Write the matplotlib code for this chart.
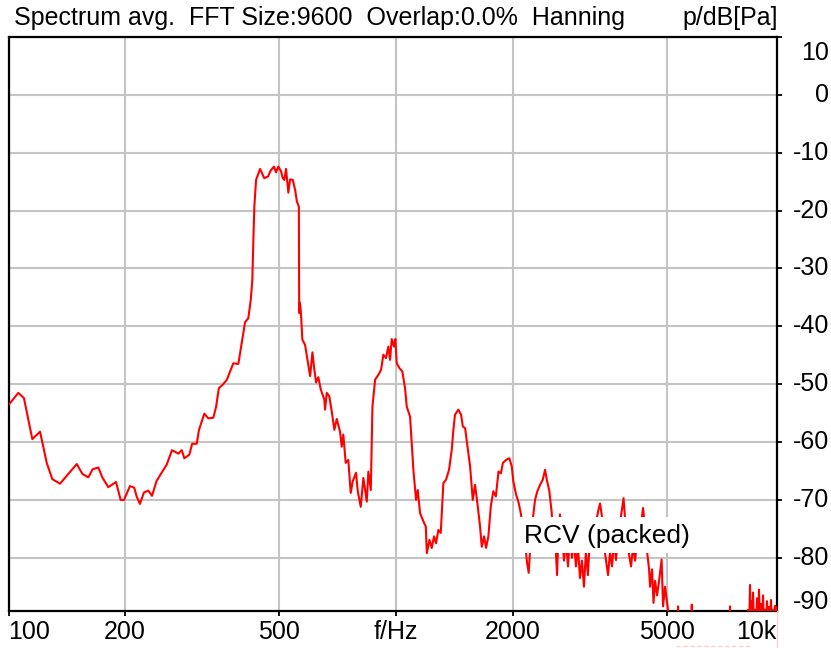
import matplotlib
matplotlib.use("Agg")
import matplotlib.pyplot as plt
from matplotlib import transforms
from matplotlib.patches import Rectangle
from matplotlib.ticker import NullLocator

plt.rcParams['font.family'] = ['Liberation Sans', 'DejaVu Sans']

# averaged spectrum, frequency in Hz / level in dB re 1 Pa
# low band up to the top of the main peak
f_low = [100, 106.0, 109.6, 115.2, 120.6, 125.5, 129.7, 135.8, 150.0, 155.1,
         160.7, 164.9, 170.5, 174.9, 181.0, 189.4, 194.7, 198.6, 205.8, 211.1,
         214.1, 218.3, 223.7, 229.5, 234.6, 241.1, 256.0, 264.2, 274.4, 280.0,
         284.2, 292.8, 297.7, 306.0, 310.1, 320.1, 327.9, 337.7, 343.3, 348.9,
         357.1, 366.2, 380.2, 391.8, 397.4, 402.2, 407.7, 415.7, 421.8, 425.8,
         428.4, 430.9, 435.3, 445.8, 457.0, 467.6, 474.4, 484.3, 490.2, 496.9,
         505.0, 510.1, 515.0, 520.2, 527.4, 532.8, 541.5, 549.0, 554.7, 561.3]
db_low = [-53.6, -51.5, -52.4, -59.5, -58.2, -63.6, -66.4, -67.2, -63.8, -65.5,
          -66.1, -64.7, -64.4, -66.2, -67.8, -66.9, -70.0, -70.0, -67.6, -67.9,
          -69.4, -70.7, -68.7, -68.4, -69.3, -66.7, -63.9, -61.4, -62.0, -61.4,
          -62.8, -62.2, -60.3, -60.3, -57.9, -55.1, -55.9, -55.8, -53.9, -50.7,
          -50.1, -49.2, -46.4, -46.5, -44.0, -41.8, -39.3, -38.6, -35.4, -32.0,
          -25.1, -19.3, -14.7, -12.8, -14.4, -14.1, -13.1, -12.4, -13.4, -12.4,
          -13.2, -14.4, -14.7, -12.8, -16.9, -14.6, -14.7, -16.4, -18.4, -19.3]

# falling edge and the 1 kHz hump
f_mid = [562.5, 565.0, 568.4, 573.1, 582.4, 594.1, 600.2, 608.5, 614.7, 621.8,
         630.2, 639.4, 653.1, 655.8, 662.5, 672.7, 682.4, 693.1, 703.0, 716.9,
         724.1, 731.0, 741.5, 753.1, 763.9, 773.1, 788.4, 796.5, 810.8, 823.5,
         840.4, 848.5, 860.8, 869.1, 883.2, 900.2, 915.0, 927.6, 942.3, 955.3,
         965.0, 974.8, 988.2, 995.9, 1004.2, 1019.8, 1038.2, 1055.0, 1065.8, 1086.9,
         1108.6]
db_mid = [-37.7, -35.9, -37.7, -42.3, -43.2, -46.7, -48.6, -44.5, -47.2, -49.7,
          -48.8, -50.9, -52.7, -54.4, -51.5, -52.1, -54.7, -57.9, -56.0, -58.2,
          -60.8, -58.7, -63.6, -63.1, -68.8, -66.8, -65.3, -68.5, -71.2, -66.2,
          -70.3, -65.1, -68.3, -53.9, -49.2, -48.4, -47.5, -44.9, -45.5, -43.5,
          -45.8, -42.2, -43.5, -42.2, -46.4, -47.2, -47.8, -50.7, -53.9, -55.6,
          -64.8]

# 1.5 kHz and 2 kHz humps
f_hump = [1126.3, 1137.7, 1153.4, 1181.4, 1193.5, 1200.7, 1219.6, 1236.3, 1253.3, 1268.3,
          1285.8, 1304.3, 1324.7, 1346.1, 1370.2, 1392.5, 1405.9, 1419.2, 1448.1, 1472.0,
          1487.0, 1507.5, 1536.9, 1552.7, 1577.4, 1599.1, 1625.1, 1647.4, 1664.2, 1687.1,
          1707.4, 1731.0, 1755.9, 1782.6, 1809.6, 1838.0, 1864.5, 1887.0, 1921.9, 1960.7,
          1988.7, 2007.8, 2040.5, 2068.7, 2098.3, 2140.0, 2178.7, 2199.6, 2230.0, 2283.9,
          2315.6, 2353.1, 2391.4, 2424.5, 2449.2, 2486.7, 2522.4]
db_hump = [-70.0, -68.3, -72.3, -74.0, -74.6, -79.2, -76.9, -78.3, -76.3, -77.5,
           -75.2, -75.7, -67.1, -66.5, -64.8, -61.3, -57.9, -55.3, -54.4, -55.3,
           -57.3, -57.6, -61.9, -64.2, -70.0, -67.4, -71.1, -74.6, -78.1, -76.3,
           -78.3, -76.3, -71.1, -68.5, -69.4, -65.1, -65.4, -63.6, -63.1, -62.8,
           -64.2, -66.8, -69.1, -70.3, -72.3, -76.0, -80.9, -82.6, -76.0, -70.0,
           -68.5, -67.4, -66.5, -64.8, -66.5, -68.5, -72.3]

# noisy band 2.5 - 5 kHz
f_noise = [2542, 2572, 2603, 2618, 2649, 2681, 2713, 2745, 2778, 2811,
           2844, 2878, 2912, 2947, 2982, 3018, 3054, 3090, 3127, 3167,
           3205, 3243, 3282, 3321, 3361, 3401, 3442, 3483, 3524, 3566,
           3609, 3652, 3696, 3740, 3785, 3830, 3864, 3897, 3945, 3993,
           4041, 4089, 4138, 4188, 4238, 4289, 4340, 4392, 4445, 4497,
           4523, 4577, 4617, 4660, 4716, 4772, 4844, 4887, 4945, 4990,
           5034, 5094, 5156, 5217]
db_noise = [-77.0, -76.0, -83.0, -78.0, -72.5, -76.0, -80.5, -77.0, -81.5, -76.0,
            -80.0, -77.0, -81.5, -78.0, -83.5, -80.5, -85.0, -79.0, -83.0, -76.0,
            -79.0, -75.0, -74.0, -72.0, -70.6, -73.0, -78.0, -80.5, -83.0, -79.0,
            -81.5, -77.0, -80.4, -76.0, -74.0, -71.5, -69.7, -73.0, -76.0, -79.5,
            -81.5, -78.0, -80.5, -77.0, -79.0, -74.0, -71.4, -75.0, -79.0, -82.0,
            -85.0, -82.0, -87.8, -84.0, -86.5, -84.0, -80.3, -88.4, -85.0, -87.0,
            -89.0, -95.0, -90.0, -95.0]

# noise floor above 5 kHz (mostly below the display range)
f_floor = [5311, 5343, 5375, 5760, 5796, 5830, 7230, 7276, 7320, 8040,
           8097, 8145, 8193, 8230, 8267, 8300, 8340, 8390, 8440, 8490,
           8540, 8591, 8642, 8694, 8745, 8797, 8850, 8902, 8955, 9009,
           9062, 9116, 9170, 9225, 9280, 9335, 9390, 9446, 9500, 9559,
           9620]
db_floor = [-95.0, -88.4, -95.0, -95.0, -88.1, -95.0, -95.0, -88.4, -95.0, -95.0,
            -89.0, -93.0, -84.7, -92.0, -87.5, -93.0, -86.0, -92.0, -89.0, -93.0,
            -87.0, -92.0, -85.5, -92.0, -88.0, -92.0, -86.5, -92.0, -89.0, -92.0,
            -87.5, -92.0, -88.5, -92.0, -87.3, -92.0, -89.0, -92.0, -88.3, -92.0,
            -88.5]

x_ticks = [100, 200, 500, 1000, 2000, 5000]
x_tick_labels = ["100", "200", "500", "f/Hz", "2000", "5000"]
x_end_label = "10k"
y_ticks = [10, 0, -10, -20, -30, -40, -50, -60, -70, -80, -90]
y_tick_labels = ["10", "0", "-10", "-20", "-30", "-40", "-50", "-60", "-70", "-80", "-90"]
header = "Spectrum avg.  FFT Size:9600  Overlap:0.0%  Hanning"
unit_label = "p/dB[Pa]"
trace_name = "RCV (packed)"

freq = f_low + f_mid + f_hump + f_noise + f_floor
level = db_low + db_mid + db_hump + db_noise + db_floor

W, H = 831, 648
fig = plt.figure(figsize=(W / 100, H / 100), dpi=100)
left, right, top, bottom = 8.5, 776.7, 37, 611
aw, ah = right - left, bottom - top
ax = fig.add_axes([left / W, 1 - bottom / H, aw / W, ah / H])

ax.plot(freq, level, color="#ff0000", lw=1.5, zorder=3)

ax.set_xscale("log")
ax.set_xlim(100, 9600)
ax.set_ylim(-89.2, 10)
ax.set_xticks(x_ticks)
ax.xaxis.set_minor_locator(NullLocator())
ax.set_yticks(y_ticks[:-1])
ax.yaxis.tick_right()
ax.tick_params(axis="both", direction="out", length=3.5, width=1.3, color="black",
               labelbottom=False, labelright=False)
ax.grid(True, color="#c4c4c4", lw=1.5)
ax.set_axisbelow(True)
for s in ax.spines.values():
    s.set_linewidth(1.6)
    s.set_color("black")

fs = 18
# frequency labels under the axis
xt = ax.get_xaxis_transform()
for v, lab in zip(x_ticks, x_tick_labels):
    ha = "left" if v == x_ticks[0] else "center"
    ax.text(v, -0.037, lab, transform=xt, ha=ha, va="center", fontsize=fs, clip_on=False)
ax.text(1.0, -0.037, x_end_label, transform=ax.transAxes, ha="right", va="center",
        fontsize=fs, clip_on=False)

# level labels on the right, end labels pulled inside the frame
yt = transforms.blended_transform_factory(fig.transFigure, ax.transData)
for i, (v, lab) in enumerate(zip(y_ticks, y_tick_labels)):
    dy = 0
    if i == 0:
        dy = -16
    elif i == len(y_ticks) - 1:
        dy = 14
    tr = transforms.offset_copy(yt, fig=fig, y=dy, units="dots")
    ax.text(829 / W, v, lab, transform=tr, ha="right", va="center", fontsize=fs, clip_on=False)

fig.text(14 / W, 1 - 18 / H, header, ha="left", va="center", fontsize=fs)
fig.text(778 / W, 1 - 18 / H, unit_label, ha="right", va="center", fontsize=fs)

# trace name on a white patch inside the plot
bx0, bx1, by0, by1 = 515, 697, 517, 553
ax.add_patch(Rectangle(((bx0 - left) / aw, (bottom - by1) / ah), (bx1 - bx0) / aw,
                       (by1 - by0) / ah, transform=ax.transAxes, fc="white", ec="none",
                       zorder=4))
ax.text((606.5 - left) / aw, (bottom - 535.5) / ah, trace_name, transform=ax.transAxes,
        ha="center", va="center", fontsize=19, zorder=5)

# faint marks below the frame
fig.add_artist(plt.Line2D([right / W, right / W], [0, 1 - bottom / H], color="#ffd0d0", lw=1))
fig.add_artist(plt.Line2D([676 / W, 750 / W], [1 - 646 / H, 1 - 646 / H], color="#ffd0d0",
                          lw=1, ls=(0, (3, 2))))

fig.savefig("out.png", dpi=100)
